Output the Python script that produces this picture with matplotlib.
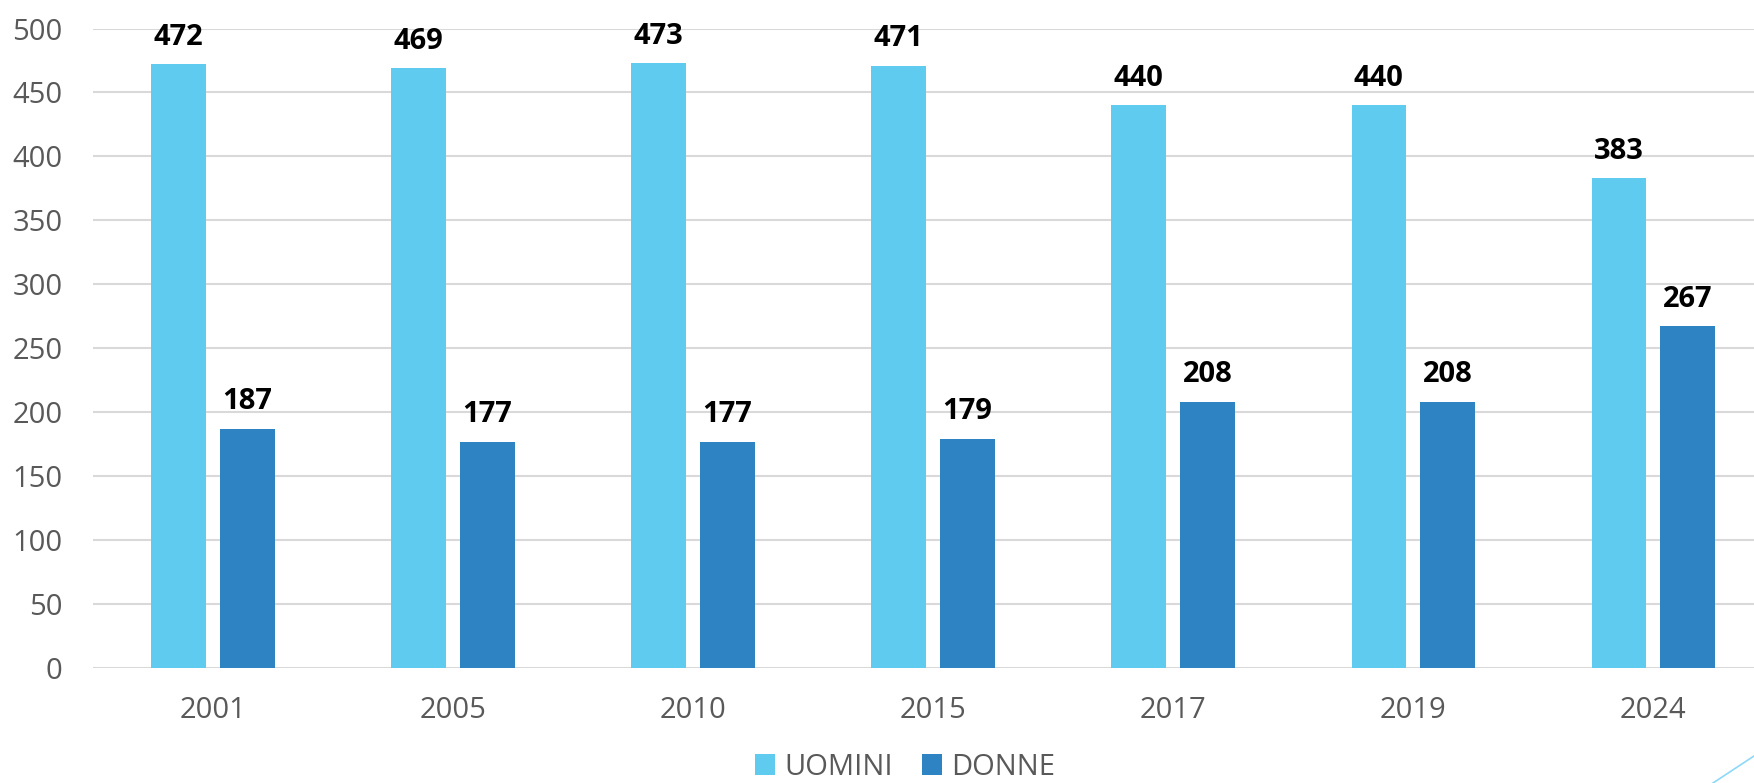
import matplotlib
matplotlib.use("Agg")
import matplotlib.pyplot as plt
import numpy as np
from matplotlib.lines import Line2D

years = ["2001", "2005", "2010", "2015", "2017", "2019", "2024"]
uomini = [472, 469, 473, 471, 440, 440, 383]
donne = [187, 177, 177, 179, 208, 208, 267]

light = "#5ECBEF"
dark = "#2E83C2"
grey = "#595959"

plt.rcParams['font.family'] = ['Open Sans', 'DejaVu Sans']

fig = plt.figure(figsize=(17.54, 7.83), dpi=100)
ax = fig.add_axes([0.053, 0.147, 0.958, 0.8166])

x = np.arange(len(years))
w = 0.228
off = 0.143
b1 = ax.bar(x - off, uomini, w, color=light, label="UOMINI", zorder=3)
b2 = ax.bar(x + off, donne, w, color=dark, label="DONNE", zorder=3)

for bars in (b1, b2):
    for r in bars:
        ax.annotate(str(int(r.get_height())), (r.get_x() + r.get_width() / 2, r.get_height()),
                    xytext=(0, 9), textcoords="offset points", ha="center", va="bottom",
                    fontsize=21, fontweight="bold", color="black", zorder=4)

ax.set_xlim(-0.5, len(years) - 0.5)
ax.set_ylim(0, 500)
ax.set_yticks(range(0, 501, 50))
ax.set_xticks(x)
ax.set_xticklabels(years)
ax.yaxis.grid(True, color="#D9D9D9", linewidth=1.5, zorder=0)
ax.set_axisbelow(True)
for s in ax.spines.values():
    s.set_visible(False)
ax.tick_params(axis="both", length=0, labelsize=21, colors=grey)
ax.tick_params(axis="y", pad=22)
ax.tick_params(axis="x", pad=20)

leg = fig.legend(loc="center", bbox_to_anchor=(0.516, 0.02), ncol=2, frameon=False,
                 fontsize=21, handlelength=0.7, handleheight=0.7, handletextpad=0.3,
                 columnspacing=1.0)
for t in leg.get_texts():
    t.set_color(grey)

# decorative diagonal line bottom-right
fig.add_artist(Line2D([1713 / 1754, 1.0], [0.0, 27 / 783], transform=fig.transFigure,
                      color="#8ED8F8", linewidth=1.2))

fig.savefig("out.png", dpi=100)
